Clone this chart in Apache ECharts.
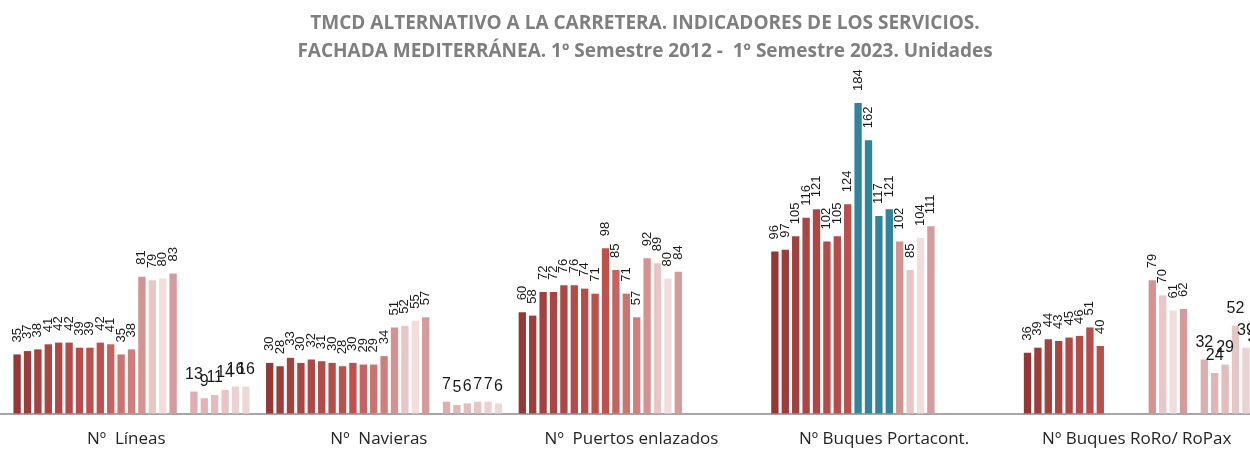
<!DOCTYPE html>
<html>
<head>
<meta charset="utf-8">
<title>TMCD Fachada Mediterránea</title>
<script src="https://cdn.jsdelivr.net/npm/echarts@6/dist/echarts.min.js"></script>
<style>
  html, body { margin: 0; padding: 0; background: #fff; }
  #chart { width: 1250px; height: 450px; }
</style>
</head>
<body>
<div id="chart"></div>
<script>
// categorias del eje X
var categorias = ['Nº  Líneas', 'Nº  Navieras', 'Nº  Puertos enlazados', 'Nº Buques Portacont.', 'Nº Buques RoRo/ RoPax']

// 24 huecos por categoria (el 0 y el 17 van vacios)
var lineas    = [null, 35, 37, 38, 41, 42, 42, 39, 39, 42, 41, 35, 38, 81, 79, 80, 83, null, 13, 9, 11, 14, 16, 16]
var navieras  = [null, 30, 28, 33, 30, 32, 31, 30, 28, 30, 29, 29, 34, 51, 52, 55, 57, null, 7, 5, 6, 7, 7, 6]
var puertos   = [null, 60, 58, 72, 72, 76, 76, 74, 71, 98, 85, 71, 57, 92, 89, 80, 84, null, null, null, null, null, null, null]
var portacont = [null, 96, 97, 105, 116, 121, 102, 105, 124, 184, 162, 117, 121, 102, 85, 104, 111, null, null, null, null, null, null, null]
var roro      = [null, 36, 39, 44, 43, 45, 46, 51, 40, null, null, null, null, 79, 70, 61, 62, null, 32, 24, 29, 52, 39, 35]

var colores = [
  '#ffffff', '#953735', '#9d3d3b', '#a3413f', '#a94543', '#ae4846', '#b34b48', '#b64d4a',
  '#ba4f4c', '#c0504d', '#c6625f', '#cc7370', '#cf7e7b', '#d49391', '#e8c6c6', '#f2dcdc',
  '#d59b9a', '#ffffff', '#ddaead', '#e0b5b5', '#e3bcbc', '#e6c5c5', '#ebd1d1', '#edd8d8'
]
var tealColor = '#31849b'

var chart = echarts.init(document.getElementById('chart'))
var filas = [lineas, navieras, puertos, portacont, roro]

var series = []
for (var i = 0; i < 24; i++) {
  var data = []
  for (var c = 0; c < filas.length; c++) {
    var v = filas[c][i]
    if (c === 3 && i >= 9 && i <= 12) {
      data.push({ value: v, itemStyle: { color: tealColor } })
    } else {
      data.push(v)
    }
  }
  var vertical = i <= 16
  series.push({
    name: 's' + i,
    type: 'bar',
    barGap: '42%',
    barCategoryGap: '2.4%',
    itemStyle: { color: colores[i] },
    label: vertical ? {
      show: true,
      position: 'top',
      rotate: 90,
      align: 'left',
      verticalAlign: 'middle',
      distance: 12,
      fontSize: 13,
      color: '#1a1a1a',
      fontFamily: 'Liberation Sans'
    } : {
      show: true,
      position: 'top',
      distance: 9,
      fontSize: 16,
      color: '#1a1a1a',
      fontFamily: 'Liberation Sans'
    },
    data: data
  })
}

var option = {
  animation: false,
  title: {
    text: 'TMCD ALTERNATIVO A LA CARRETERA. INDICADORES DE LOS SERVICIOS.\nFACHADA MEDITERRÁNEA. 1º Semestre 2012 -  1º Semestre 2023. Unidades',
    left: 640,
    top: 5,
    textAlign: 'center',
    textStyle: {
      fontSize: 19,
      fontWeight: 'bold',
      color: '#7f7f7f',
      lineHeight: 28,
      fontFamily: 'Open Sans'
    }
  },
  grid: {
    left: 0,
    top: 76,
    width: 1263,
    height: 337.5,
    outerBoundsMode: 'none',
    containLabel: false
  },
  xAxis: {
    type: 'category',
    data: categorias,
    axisLine: { lineStyle: { color: '#a6a6a6', width: 2 } },
    axisTick: { show: false },
    axisLabel: {
      interval: 0,
      margin: 17,
      fontSize: 17,
      color: '#262626',
      fontFamily: 'Open Sans'
    }
  },
  yAxis: {
    type: 'value',
    min: 0,
    max: 200,
    show: false,
    splitLine: { show: false }
  },
  series: series
}
chart.setOption(option)
</script>
</body>
</html>
